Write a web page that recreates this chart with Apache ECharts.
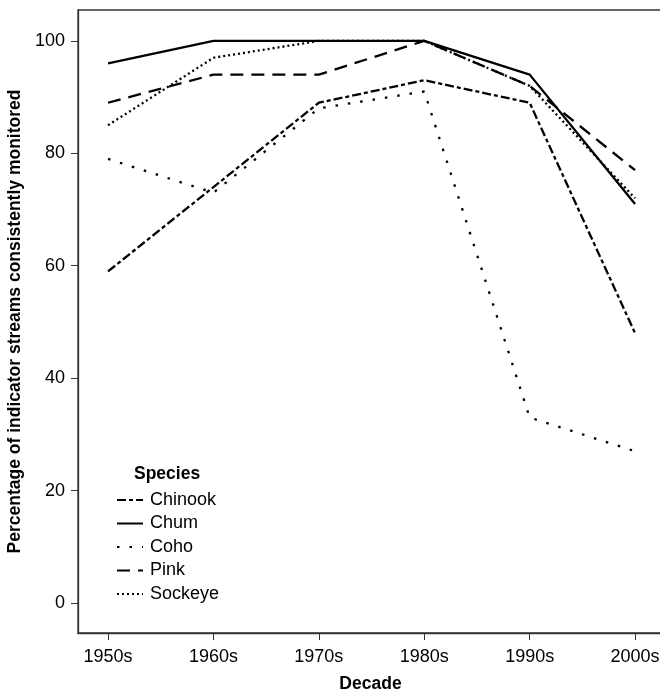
<!DOCTYPE html>
<html>
<head>
<meta charset="utf-8">
<script src="https://cdn.jsdelivr.net/npm/echarts@6/dist/echarts.min.js"></script>
<style>
  html, body { margin: 0; padding: 0; background: #fff; }
  #chart { width: 660px; height: 693px; }
</style>
</head>
<body>
<div id="chart"></div>
<script>
  // decades on the x axis
  var decades = ['1950s', '1960s', '1970s', '1980s', '1990s', '2000s'];
  var yTicks = [0, 20, 40, 60, 80, 100];

  // percentage of indicator streams consistently monitored
  var chinook = [59, 74, 89, 93, 89, 48];
  var chum = [96, 100, 100, 100, 94, 71];
  var coho = [79, 73, 88, 91, 33, 27];
  var pink = [89, 94, 94, 100, 92, 77];
  var sockeye = [85, 97, 100, 100, 92, 72];

  var species = ['Chinook', 'Chum', 'Coho', 'Pink', 'Sockeye'];
  var values = [chinook, chum, coho, pink, sockeye];
  var dashes = [[9, 3, 4, 3], 'solid', [2.5, 10], [13, 8], [2, 3]];

  var font = 'Liberation Sans, Arial, sans-serif';

  function toPairs(arr) {
    return arr.map(function (v, i) { return [i, v]; });
  }

  var chart = echarts.init(document.getElementById('chart'));

  var series = species.map(function (name, k) {
    return {
      name: name,
      type: 'line',
      data: toPairs(values[k]),
      symbol: 'none',
      animation: false,
      color: '#000',
      lineStyle: { color: '#000', width: 2.3, type: dashes[k] }
    };
  });

  chart.setOption({
    backgroundColor: '#fff',
    textStyle: { fontFamily: font },
    title: {
      text: 'Species',
      left: 129,
      top: 460,
      textStyle: { fontSize: 17.5, fontWeight: 'bold', color: '#000', fontFamily: font }
    },
    legend: {
      orient: 'vertical',
      left: 111,
      top: 486,
      itemWidth: 26,
      itemHeight: 12,
      itemGap: 5.5,
      itemStyle: { opacity: 0 },
      textStyle: { fontSize: 18, color: '#000', fontFamily: font, padding: [0, 0, 0, 2] },
      data: species
    },
    grid: {
      left: 78, right: -3, top: 10, bottom: 60,
      containLabel: false,
      outerBoundsMode: 'none',
      show: true, borderColor: '#333', borderWidth: 1.3
    },
    xAxis: {
      type: 'value',
      min: -0.285,
      max: 5.265,
      name: 'Decade',
      nameLocation: 'middle',
      nameGap: 42,
      nameTextStyle: { fontSize: 17.5, fontWeight: 'bold', color: '#000', fontFamily: font },
      splitLine: { show: false },
      axisLine: { show: true, onZero: false, lineStyle: { color: '#333', width: 1.3 } },
      axisTick: { show: true, length: 7, customValues: [0, 1, 2, 3, 4, 5], lineStyle: { color: '#333' } },
      axisLabel: {
        customValues: [0, 1, 2, 3, 4, 5],
        margin: 15,
        fontSize: 18,
        color: '#000',
        formatter: function (v) { return decades[Math.round(v)]; }
      }
    },
    yAxis: {
      type: 'value',
      min: -5.34,
      max: 105.5,
      name: 'Percentage of indicator streams consistently monitored',
      nameLocation: 'middle',
      nameGap: 51,
      nameTextStyle: { fontSize: 17.5, fontWeight: 'bold', color: '#000', fontFamily: font },
      splitLine: { show: false },
      axisLine: { show: true, onZero: false, lineStyle: { color: '#333', width: 1.3 } },
      axisTick: { show: true, length: 7, customValues: yTicks, lineStyle: { color: '#333' } },
      axisLabel: { customValues: yTicks, margin: 13, fontSize: 18, color: '#000' }
    },
    series: series
  });
</script>
</body>
</html>
